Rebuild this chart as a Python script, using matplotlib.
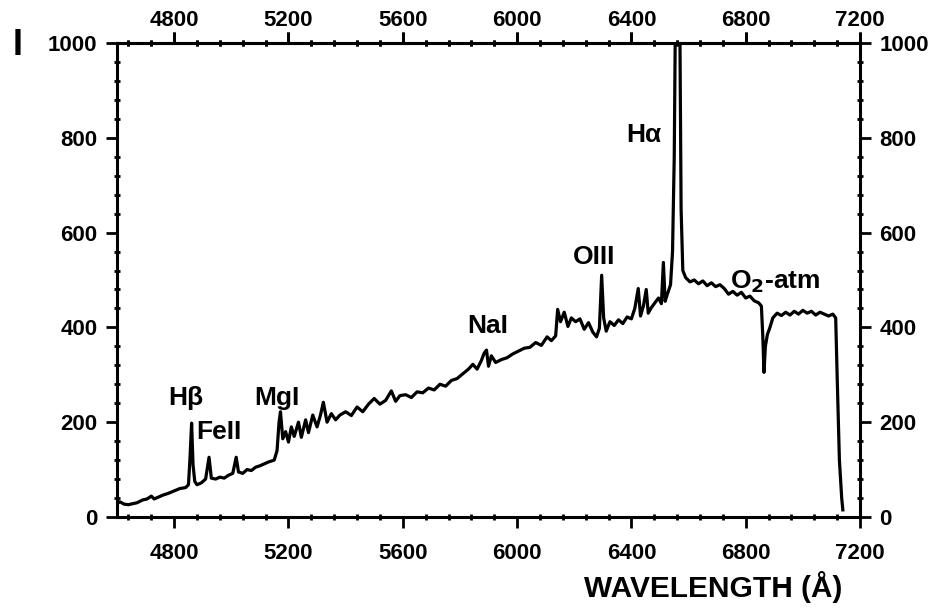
import numpy as np
import matplotlib.pyplot as plt
from matplotlib.ticker import FixedLocator

plt.rcParams['font.family'] = ['Liberation Sans', 'DejaVu Sans']
plt.rcParams['font.weight'] = 'bold'

# Spectrum: wavelength (A) and intensity
wavelength = [4600, 4610, 4625, 4640, 4655, 4670, 4690, 4705, 4720, 4730, 4745,
              4760, 4780, 4800, 4820, 4840, 4850, 4855, 4861, 4866, 4872, 4880,
              4895, 4910, 4922, 4930, 4945, 4960, 4975, 4990, 5005, 5017, 5025,
              5040, 5055, 5070, 5085, 5100, 5115, 5130, 5150, 5160, 5167, 5172,
              5180, 5190, 5200, 5210, 5220, 5235, 5245, 5260, 5270, 5285, 5300,
              5312, 5322, 5335, 5350, 5365, 5380, 5400, 5420, 5440, 5460, 5480,
              5500, 5520, 5540, 5560, 5575, 5590, 5610, 5630, 5650, 5670, 5690,
              5710, 5730, 5750, 5770, 5790, 5810, 5830, 5845, 5860, 5875, 5885,
              5893, 5900, 5910, 5925, 5945, 5965, 5985, 6005, 6025, 6045, 6065,
              6085, 6105, 6120, 6135, 6142, 6152, 6165, 6178, 6190, 6205, 6220,
              6235, 6250, 6265, 6278, 6288, 6296, 6303, 6312, 6325, 6340, 6355,
              6370, 6385, 6400, 6412, 6424, 6432, 6442, 6452, 6459, 6468, 6480,
              6495, 6505, 6512, 6518, 6527, 6537, 6544, 6550, 6556, 6563, 6569,
              6574, 6580, 6590, 6605, 6620, 6635, 6650, 6665, 6680, 6695, 6710,
              6725, 6740, 6755, 6770, 6785, 6800, 6815, 6830, 6845, 6855, 6860,
              6864, 6869, 6876, 6885, 6895, 6910, 6925, 6940, 6955, 6970, 6985,
              7000, 7015, 7030, 7045, 7060, 7075, 7090, 7105, 7115, 7120, 7128,
              7136, 7140]
intensity = [28, 32, 27, 26, 28, 30, 36, 38, 44, 38, 42,
             46, 50, 55, 60, 62, 68, 120, 198, 110, 75, 68,
             72, 80, 126, 82, 80, 84, 82, 88, 92, 126, 95,
             92, 100, 98, 105, 108, 112, 116, 120, 140, 200, 222,
             165, 180, 158, 190, 170, 200, 168, 205, 178, 215, 190,
             215, 242, 200, 218, 205, 215, 222, 214, 232, 222, 238,
             250, 238, 246, 266, 244, 256, 258, 252, 264, 262, 272,
             268, 280, 276, 288, 292, 302, 312, 322, 312, 330, 346,
             352, 318, 340, 326, 332, 336, 344, 350, 356, 358, 368,
             362, 380, 372, 382, 438, 412, 432, 402, 420, 412, 418,
             396, 410, 390, 380, 398, 510, 420, 392, 412, 404, 416,
             408, 422, 418, 440, 482, 424, 445, 480, 430, 440, 450,
             462, 450, 537, 455, 472, 490, 560, 760, 1200, 1450, 1100,
             650, 520, 505, 496, 500, 492, 498, 488, 494, 486, 490,
             482, 470, 476, 468, 474, 462, 466, 456, 452, 445, 380,
             305, 360, 385, 400, 420, 430, 425, 432, 426, 434, 428,
             436, 430, 434, 426, 432, 428, 424, 428, 420, 300, 120,
             40, 15]

line_labels = ["H\u03b2", "FeII", "MgI", "NaI", "OIII", "H\u03b1", "O$_2$-atm"]
label_x = [4842, 4878, 5161, 5896, 6268, 6443, 6746]
label_y = [251, 180, 251, 403, 549, 806, 497]
label_ha = ["center", "left", "center", "center", "center", "center", "left"]

x_major = [4800, 5200, 5600, 6000, 6400, 6800, 7200]
x_minor = list(range(4640, 7200, 80))
y_major = [0, 200, 400, 600, 800, 1000]
y_minor = list(range(40, 1000, 40))

fig = plt.figure(figsize=(9.37, 6.10), dpi=100)
ax = fig.add_axes([0.1249, 0.1525, 0.7929, 0.777])

ax.plot(wavelength, intensity, color="black", linewidth=2.3)

for txt, x, y, ha in zip(line_labels, label_x, label_y, label_ha):
    ax.text(x, y, txt, ha=ha, va="center", fontsize=19, fontweight="bold")

ax.set_xlim(4600, 7200)
ax.set_ylim(0, 1000)
ax.xaxis.set_major_locator(FixedLocator(x_major))
ax.xaxis.set_minor_locator(FixedLocator(x_minor))
ax.yaxis.set_major_locator(FixedLocator(y_major))
ax.yaxis.set_minor_locator(FixedLocator(y_minor))

ax.tick_params(which="major", direction="out", length=8, width=2,
               labelsize=16, top=True, right=True, labelright=True)
ax.tick_params(axis="x", which="major", pad=11)
ax.tick_params(axis="y", which="major", pad=6)
ax.tick_params(which="minor", direction="inout", length=5, width=2,
               top=True, right=True)
for s in ax.spines.values():
    s.set_linewidth(2.2)

# top axis labels with a smaller pad than the bottom ones
top = ax.secondary_xaxis("top")
top.xaxis.set_major_locator(FixedLocator(x_major))
top.xaxis.set_minor_locator(FixedLocator(x_minor))
top.tick_params(which="major", direction="out", length=8, width=2,
                labelsize=16, pad=1)
top.tick_params(which="minor", direction="inout", length=5, width=2)
top.spines["top"].set_linewidth(2.2)
for lab in top.get_xticklabels():
    lab.set_fontweight("bold")

fig.text(0.013, 0.925, "I", fontsize=26, fontweight="bold", ha="left", va="center")
fig.text(0.899, 0.038, "WAVELENGTH (\u00c5)", fontsize=21.5, fontweight="bold",
         ha="right", va="center")

fig.savefig("out.png", dpi=100)
